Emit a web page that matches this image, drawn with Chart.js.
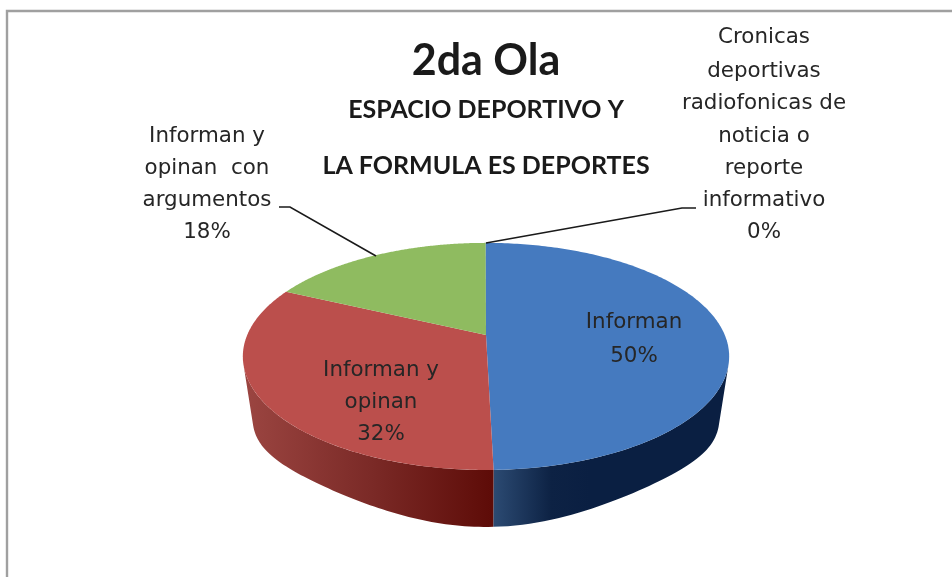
<!DOCTYPE html>
<html><head><meta charset="utf-8">
<style>html,body{margin:0;padding:0;background:#fff}#w{position:relative;width:952px;height:577px}canvas{display:block}</style>
<script src="https://cdn.jsdelivr.net/npm/chart.js@4/dist/chart.umd.min.js"></script>
</head><body><div id="w"><canvas id="c" width="952" height="577"></canvas></div>
<script>
const categories = ['Informan','Informan y opinan','Informan y opinan con argumentos','Cronicas deportivas radiofonicas de noticia o reporte informativo'];
const values = [49.6,32.4,18,0.02];
const sliceColors = ['#457abf','#bb4f4c','#8fbb60','#4f81bd'];
const wallStops = [['#2c4b73','#0d2244','#0a1f42'],['#5e0c08','#7b2a27','#9a4440']];
const titleText = '2da Ola';
const subtitleLines = ['ESPACIO DEPORTIVO Y','LA FORMULA ES DEPORTES'];
const labelLines = [
 {lines:['Informan','50%'],cx:634,ys:[322,356]},
 {lines:['Informan y','opinan','32%'],cx:381,ys:[370,402,434]},
 {lines:['Informan y','opinan  con','argumentos','18%'],cx:207,ys:[136,168,200,232]},
 {lines:['Cronicas','deportivas','radiofonicas de','noticia o','reporte','informativo','0%'],cx:764,ys:[37,71,103,136,168,200,232]}
];
const leaders = [[[279,207],[290,207],[376,256]],[[696,208],[682,208],[486,243]]];

const persp = {apexUp:21.5/113.5, a:238.6/113.5, b:109.4/113.5, k:0.1894, wallScale:0.96, wallDrop:62.4, maxX:243/113.5, lift:40};
function proj(el,ang,low){
  const t=ang+Math.PI/2,u=Math.sin(t),v=-Math.cos(t),r=el.outerRadius,d=1-persp.k*v;
  const X=persp.a*r*u/d, Y=persp.b*r*v/d, ay=el.y-persp.apexUp*r;
  if(!low) return [el.x+X, ay+Y];
  const w=Math.min(1,Math.abs(X)/(persp.maxX*r)),w2=w*w;
  return [el.x+persp.wallScale*X, ay+persp.wallDrop+persp.wallScale*Y-persp.lift*w2*(1-w2)];
}
const pie3d={id:'pie3d',
 beforeDatasetDraw(chart,args){
  const ctx=chart.ctx,els=chart.getDatasetMeta(args.index).data;
  ctx.save();
  els.forEach((el,i)=>{
    const s=wallStops[i]; if(!s)return;
    const x0=i===0?493:491,x1=i===0?590:250;
    const g=ctx.createLinearGradient(x0,0,x1,0);
    g.addColorStop(0,s[0]);g.addColorStop(i===0?.6:.5,s[1]);g.addColorStop(1,s[2]);
    const n=120;ctx.beginPath();
    for(let j=0;j<n;j++){
      const a=el.startAngle+(el.endAngle-el.startAngle)*j/n,b=el.startAngle+(el.endAngle-el.startAngle)*(j+1)/n;
      const q=[proj(el,a),proj(el,b),proj(el,b,true),proj(el,a,true)];
      const area=(q[1][0]-q[0][0])*(q[2][1]-q[0][1])-(q[1][1]-q[0][1])*(q[2][0]-q[0][0]);
      if(area>=0)continue;
      ctx.moveTo(q[0][0],q[0][1]);for(let m=1;m<4;m++)ctx.lineTo(q[m][0],q[m][1]);ctx.closePath();
    }
    ctx.fillStyle=g;ctx.fill();
  });
  els.forEach(el=>{
    ctx.beginPath();ctx.moveTo(el.x,el.y-persp.apexUp*el.outerRadius);
    const n=200;for(let j=0;j<=n;j++){const p=proj(el,el.startAngle+(el.endAngle-el.startAngle)*j/n);ctx.lineTo(p[0],p[1]);}
    ctx.closePath();ctx.fillStyle=el.options.backgroundColor;ctx.fill();
  });
  ctx.restore();
  return false;
 },
 afterDraw(chart){
  const ctx=chart.ctx;ctx.save();
  ctx.strokeStyle='#a0a0a0';ctx.lineWidth=2.4;
  ctx.beginPath();ctx.moveTo(7,577);ctx.lineTo(7,11);ctx.lineTo(952,11);ctx.stroke();
  ctx.strokeStyle='#1a1a1a';ctx.lineWidth=1.6;
  leaders.forEach(l=>{ctx.beginPath();l.forEach((p,i)=>i?ctx.lineTo(p[0],p[1]):ctx.moveTo(p[0],p[1]));ctx.stroke();});
  ctx.fillStyle='#262626';ctx.font='21.4px "DejaVu Sans"';ctx.textAlign='center';ctx.textBaseline='middle';
  labelLines.forEach(L=>L.lines.forEach((t,i)=>ctx.fillText(t,L.cx,L.ys[i])));
  ctx.restore();
 }
};
new Chart(document.getElementById('c'),{
 type:'pie',
 data:{labels:categories,datasets:[{data:values,backgroundColor:sliceColors,borderWidth:0}]},
 plugins:[pie3d],
 options:{responsive:false,animation:false,
  layout:{padding:{left:20,right:0,top:0,bottom:107}},
  plugins:{legend:{display:false},tooltip:{enabled:false},
   title:{display:true,text:titleText,color:'#1a1a1a',font:{family:'Lato',size:43,weight:'bold',lineHeight:0.95},padding:{top:41,bottom:0}},
   subtitle:{display:true,text:subtitleLines,color:'#1a1a1a',font:{family:'Lato',size:25,weight:'bold',lineHeight:2.24},padding:{top:0,bottom:49}}
  }
 }
});
</script></body></html>
